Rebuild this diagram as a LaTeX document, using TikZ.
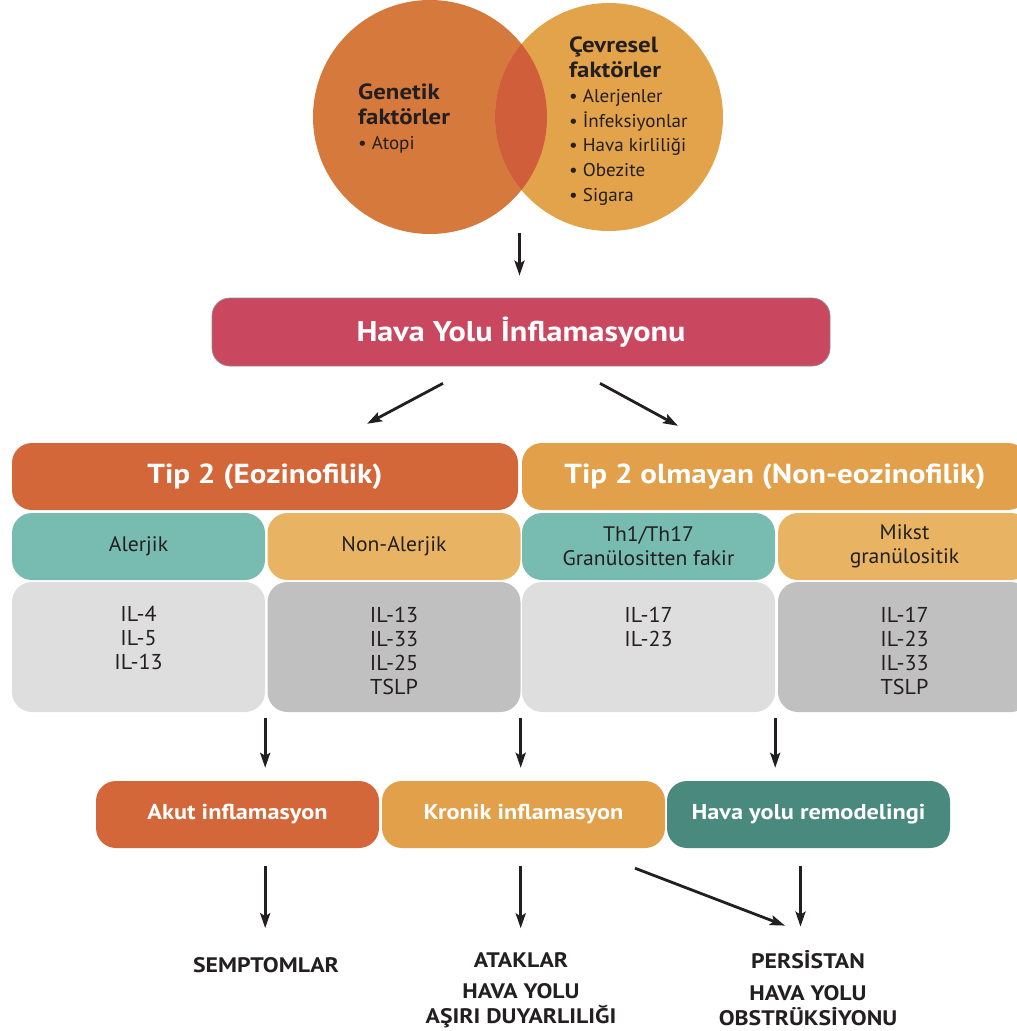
\documentclass[tikz,border=0pt]{standalone}
\usepackage{fontspec}
\setmainfont{PT Sans}[FakeStretch=1.03]
\newfontfamily\bfont{PT Sans}[FakeStretch=1.13]
\usetikzlibrary{arrows.meta,calc}
\definecolor{geneC}{HTML}{D6793C}
\definecolor{envC}{HTML}{E3A34A}
\definecolor{overC}{HTML}{D05E3A}
\definecolor{hyC}{HTML}{C9485F}
\definecolor{t2C}{HTML}{D4673A}
\definecolor{nt2C}{HTML}{E2A04A}
\definecolor{tealC}{HTML}{78BBB0}
\definecolor{sandC}{HTML}{E8B464}
\definecolor{lgC}{HTML}{DEDEDE}
\definecolor{dgC}{HTML}{C0C0C0}
\definecolor{remC}{HTML}{4A897D}
\definecolor{txtC}{HTML}{231F20}
\begin{document}
\begin{tikzpicture}[x=1pt,y=-1pt,
  rbox/.style={rounded corners=20pt, inner sep=0pt, align=center},
  bigbox/.style={rbox, minimum width=506pt, minimum height=67pt, text=white,
    font=\bfont\bfseries\fontsize{27.5}{32}\selectfont},
  subbox/.style={rbox, minimum width=253pt, minimum height=67pt, text=txtC,
    font=\fontsize{21}{24}\selectfont},
  graybox/.style={rbox, minimum width=253pt, minimum height=130pt},
  iltxt/.style={anchor=north, inner sep=0pt, align=center, text=txtC,
    font=\fontsize{21.5}{24}\selectfont},
  outbox/.style={rbox, minimum width=283pt, minimum height=67pt, text=white,
    font=\bfont\bfseries\fontsize{21.5}{24}\selectfont},
  lab/.style={inner sep=0pt, align=center, text=txtC,
    font=\bfont\bfseries\fontsize{21}{25}\selectfont},
  arr/.style={line width=2.8pt, draw=txtC, -{Stealth[length=15pt,width=10pt,inset=3pt]}},
]
\useasboundingbox (0,0) rectangle (1017,1031);
\clip (0,0) rectangle (1017,1031);

% Venn circles
\node[circle, fill=geneC, minimum size=234pt, inner sep=0pt] (gen) at (430,117) {};
\node[circle, fill=envC, minimum size=228pt, inner sep=0pt] (env) at (609,117) {};
\begin{scope}
  \path[clip] (gen.center) circle[radius=117pt];
  \fill[overC] (env.center) circle[radius=114pt];
\end{scope}
\node[anchor=north west, inner sep=0pt, align=left, text=txtC,
  font=\fontsize{18.5}{24.7}\selectfont] (gtxt) at (358,84)
  {{\bfont\bfseries\fontsize{22}{24.7}\selectfont Genetik}\\
   {\bfont\bfseries\fontsize{22}{24.7}\selectfont faktörler}\\
   • Atopi};
\node[anchor=north west, inner sep=0pt, align=left, text=txtC,
  font=\fontsize{18.5}{24.7}\selectfont] (etxt) at (569,37)
  {{\bfont\bfseries\fontsize{22}{24.7}\selectfont Çevresel}\\
   {\bfont\bfseries\fontsize{22}{24.7}\selectfont faktörler}\\
   • Alerjenler\\
   • İnfeksiyonlar\\
   • Hava kirliliği\\
   • Obezite\\
   • Sigara};

% Header
\node[rbox, rounded corners=18pt, fill=hyC, draw=black!45, line width=0.7pt,
  minimum width=618pt, minimum height=68pt, text=white,
  font=\bfont\bfseries\fontsize{28.5}{32}\selectfont] (hy) at (521,332) {Hava Yolu İnflamasyonu};

% Type bars
\node[bigbox, fill=t2C] (t2) at (265,476.5) {Tip 2 (Eozinofilik)};
\node[bigbox, fill=nt2C] (nt2) at (775,476.5) {Tip 2 olmayan (Non-eozinofilik)};

% Sub boxes
\node[subbox, fill=tealC] (al) at (138.5,546.5) {Alerjik};
\node[subbox, fill=sandC] (nal) at (394,546.5) {Non-Alerjik};
\node[subbox, fill=tealC] (th) at (648.5,546.5) {Th1/Th17\\Granülositten fakir};
\node[subbox, fill=sandC] (mk) at (904.5,546.5) {Mikst\\granülositik};

% Gray boxes
\node[graybox, fill=lgC] (g1) at (138.5,647) {};
\node[graybox, fill=dgC] (g2) at (394,647) {};
\node[graybox, fill=lgC] (g3) at (648.5,647) {};
\node[graybox, fill=dgC] (g4) at (904.5,647) {};
\node[iltxt] (g1t) at (138.5,606.5) {IL-4\\IL-5\\IL-13};
\node[iltxt] (g2t) at (394,606.5) {IL-13\\IL-33\\IL-25\\TSLP};
\node[iltxt] (g3t) at (648.5,606.5) {IL-17\\IL-23};
\node[iltxt] (g4t) at (904.5,606.5) {IL-17\\IL-23\\IL-33\\TSLP};

% Outcome boxes
\node[outbox, fill=t2C] (akut) at (237.5,814.5) {Akut inflamasyon};
\node[outbox, fill=nt2C] (kro) at (523.5,814.5) {Kronik inflamasyon};
\node[outbox, fill=remC] (rem) at (808.5,814.5) {Hava yolu remodelingi};

% Bottom labels
\node[lab] (semp) at (266,965) {SEMPTOMLAR};
\node[lab] (atak) at (521,960) {ATAKLAR};
\node[lab] (ahr) at (521,1005.5) {HAVA YOLU\\AŞIRI DUYARLILIĞI};
\node[lab] (pers) at (808,960) {PERSİSTAN};
\node[lab] (obs) at (808,1005.5) {HAVA YOLU\\OBSTRÜKSİYONU};

% Arrows
\coordinate (vt) at ($(gen.south)!.5!(env.south)$);
\draw[arr, shorten >=22pt] (vt) -- (vt |- hy.north);
\draw[arr] ($(hy.south)+(-78,17)$) -- ($(t2.north)+(102,-19)$);
\draw[arr] ($(hy.south)+(79,17)$) -- ($(nt2.north)+(-97,-17)$);

\draw[arr, shorten <=6pt, shorten >=13pt] (g1.south east) -- (g1.south east |- akut.north);
\draw[arr, shorten <=6pt, shorten >=13pt] (g2.south east) -- (g2.south east |- kro.north);
\draw[arr, shorten <=6pt, shorten >=13pt] (g3.south east) -- (g3.south east |- rem.north);

\draw[arr, shorten <=18pt, shorten >=29pt] (g1.south east |- akut.south) -- (g1.south east |- semp.north);
\draw[arr, shorten <=18pt, shorten >=24pt] (g2.south east |- kro.south) -- (g2.south east |- atak.north);
\draw[arr, shorten <=18pt, shorten >=24pt] ([xshift=-8pt]rem.south) -- ([xshift=-8pt]rem.south |- pers.north);
\draw[arr] ($(kro.south)+(111.5,20)$) -- ($(pers.north)+(-23,-25)$);
\end{tikzpicture}
\end{document}
